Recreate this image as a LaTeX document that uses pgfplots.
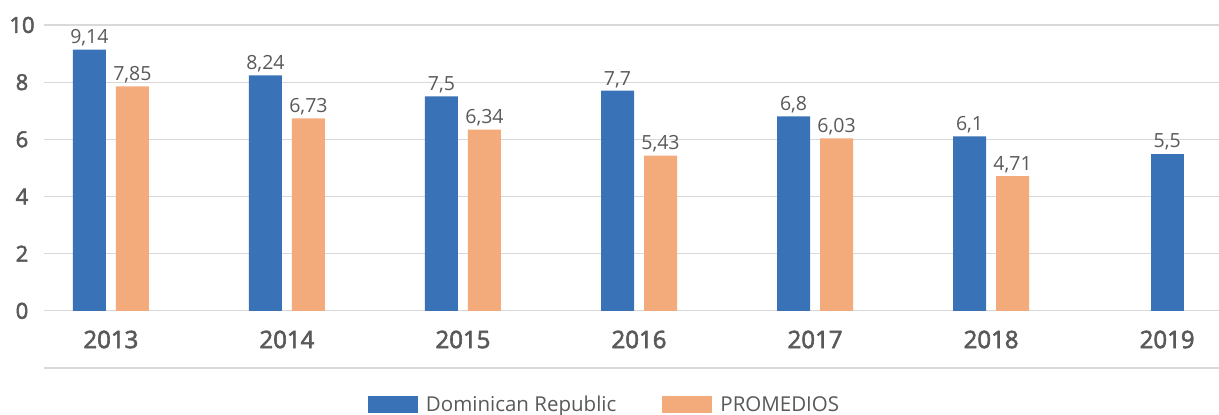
\documentclass[border=0pt]{standalone}
\usepackage{pgfplots}
\pgfplotsset{compat=1.18}
\usepackage{fontspec}
\setmainfont{Open Sans}
\newfontfamily\semib[FakeBold=2.5]{Open Sans}
\definecolor{cblue}{HTML}{3A72B8}
\definecolor{corange}{HTML}{F4AB7C}
\definecolor{tgray}{HTML}{595959}
\definecolor{ggray}{HTML}{D9D9D9}
\begin{document}
\begin{tikzpicture}
\useasboundingbox (-44pt,-47pt) rectangle (1175pt,368pt);
\begin{axis}[
  scale only axis, width=1175pt, height=343pt,
  xmin=-0.38, xmax=6.295, ymin=-2, ymax=10,
  ytick={-2,0,2,4,6,8,10}, yticklabels={,0,2,4,6,8,10},
  xtick={0,1,2,3,4,5,6}, xticklabels={2013,2014,2015,2016,2017,2018,2019},
  ymajorgrids, grid style={ggray, line width=1.3pt},
  axis line style={draw=none}, major tick length=0pt,
  ybar, bar width=33pt,
  /pgf/number format/.cd, use comma, assume math mode=true, /pgfplots/.cd,
  nodes near coords,
  every node near coord/.append style={font=\fontsize{19.5}{21}\selectfont, text=tgray, inner sep=3pt},
  xticklabel style={anchor=center, yshift=28.5pt, font=\fontsize{24}{26}\selectfont\semib, text=tgray},
  yticklabel style={anchor=center, xshift=-22pt, font=\fontsize{22}{24}\selectfont\semib, text=tgray},
  legend style={at={(axis description cs:0.273,-0.1064)}, anchor=west, draw=none, fill=none,
    font=\fontsize{20.5}{22}\selectfont, text=tgray,
    /tikz/every odd column/.append style={column sep=6pt},
    /tikz/every even column/.append style={column sep=44pt}},
  legend columns=2,
  legend image code/.code={\fill[#1] (0pt,-8.5pt) rectangle (50pt,8.5pt);},
]
\addplot[fill=cblue, draw=none, bar shift=-21.5pt] coordinates {(0,9.14) (1,8.24) (2,7.5) (3,7.7) (4,6.8) (5,6.1)};
\addplot[fill=corange, draw=none, bar shift=21.5pt] coordinates {(0,7.85) (1,6.73) (2,6.34) (3,5.43) (4,6.03) (5,4.71)};
\addplot[fill=cblue, draw=none, bar shift=0pt, forget plot] coordinates {(6,5.5)};
\legend{Dominican Republic, PROMEDIOS}
\end{axis}
\end{tikzpicture}
\end{document}
